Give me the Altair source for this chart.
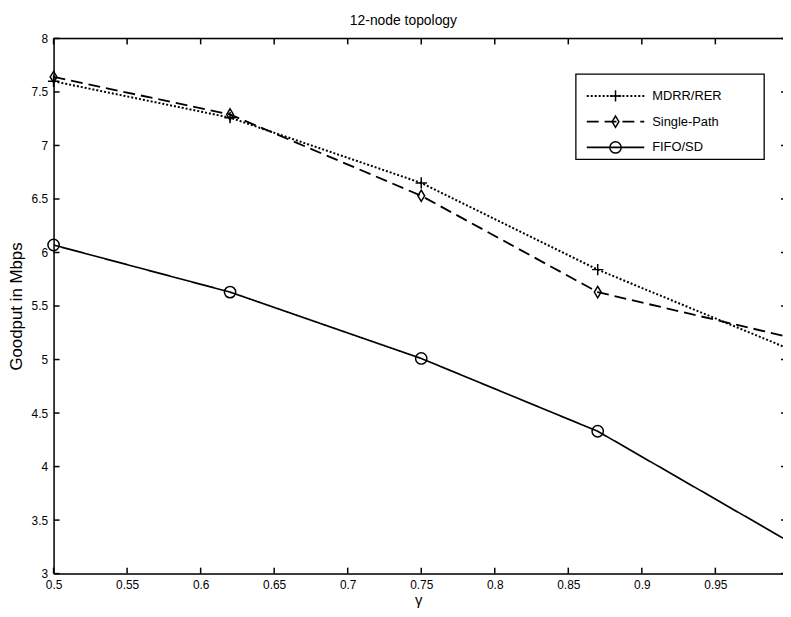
import altair as alt
import pandas as pd

# ---- data ----
gamma = [0.5, 0.62, 0.75, 0.87, 1.0]
series_names = ["MDRR/RER", "Single-Path", "FIFO/SD"]
mdrr = [7.60, 7.26, 6.65, 5.84, 5.10]
single = [7.64, 7.29, 6.53, 5.63, 5.21]
fifo = [6.07, 5.63, 5.01, 4.33, 3.30]
x_ticks = [0.5, 0.55, 0.6, 0.65, 0.7, 0.75, 0.8, 0.85, 0.9, 0.95]
y_ticks = [3, 3.5, 4, 4.5, 5, 5.5, 6, 6.5, 7, 7.5, 8]

W, H = 736, 540
FONT = "Liberation Sans"
dashes = [[2, 2], [12, 6], [1, 0]]
widths = [2.0, 1.7, 1.7]
shapes = ["M-1,0L1,0M0,-1L0,1", "M0,-1L0.6,0L0,1L-0.6,0Z", "circle"]

rows = []
for name, vals in zip(series_names, [mdrr, single, fifo]):
    for g, v in zip(gamma, vals):
        rows.append({"gamma": g, "goodput": v, "series": name})
df = pd.DataFrame(rows)

xs = alt.Scale(domain=[0.5, 0.996], nice=False, zero=False)
ys = alt.Scale(domain=[3, 8], nice=False, zero=False)

x_axis = alt.Axis(values=x_ticks, format="~g", ticks=False, grid=False, labelFontSize=12,
                  labelFont=FONT, labelColor="black", labelPadding=6, domainColor="black",
                  domainWidth=1.5, title="γ", titleFont=FONT, titleFontSize=15,
                  titleFontWeight="normal", titleColor="black", titleY=31,
                  titleBaseline="alphabetic", labelFlush=False)
y_axis = alt.Axis(values=y_ticks, format="~g", ticks=False, grid=False, labelFontSize=12,
                  labelFont=FONT, labelColor="black", labelPadding=6, domainColor="black",
                  domainWidth=1.5, title="Goodput in Mbps", titleFont=FONT, titleFontSize=17,
                  titleFontWeight="normal", titleColor="black", titleX=-32, titleY=H / 2,
                  titleAngle=-90, titleBaseline="alphabetic", titleAlign="center",
                  labelFlush=False)

dash_scale = alt.Scale(domain=series_names, range=dashes)
width_scale = alt.Scale(domain=series_names, range=widths)
shape_scale = alt.Scale(domain=series_names, range=shapes)

lines = alt.Chart(df).mark_line(color="black", clip=True).encode(
    x=alt.X("gamma:Q", scale=xs, axis=x_axis),
    y=alt.Y("goodput:Q", scale=ys, axis=y_axis),
    strokeDash=alt.StrokeDash("series:N", scale=dash_scale, legend=None),
    strokeWidth=alt.StrokeWidth("series:N", scale=width_scale, legend=None),
    detail="series:N",
)
points = alt.Chart(df).transform_filter(alt.datum.gamma < 0.99).mark_point(
    color="black", filled=False, size=130, strokeWidth=1.5, opacity=1).encode(
    x=alt.X("gamma:Q", scale=xs),
    y=alt.Y("goodput:Q", scale=ys),
    shape=alt.Shape("series:N", scale=shape_scale, legend=None),
)

# inward ticks (MATLAB-style box)
xt = pd.DataFrame({"t": x_ticks})
yt = pd.DataFrame({"t": y_ticks})
tick_bottom = alt.Chart(xt).mark_rule(color="black", strokeWidth=1.5).encode(
    x=alt.X("t:Q", scale=xs), y=alt.value(H), y2=alt.value(H - 6))
tick_top = alt.Chart(xt).mark_rule(color="black", strokeWidth=1.5).encode(
    x=alt.X("t:Q", scale=xs), y=alt.value(0), y2=alt.value(6))
tick_left = alt.Chart(yt).mark_rule(color="black", strokeWidth=1.5).encode(
    y=alt.Y("t:Q", scale=ys), x=alt.value(0), x2=alt.value(6))
tick_right = alt.Chart(yt).mark_rule(color="black", strokeWidth=1.5).encode(
    y=alt.Y("t:Q", scale=ys), x=alt.value(W - 2), x2=alt.value(W))
one = alt.Data(values=[{"k": 0}])
top_line = alt.Chart(one).mark_rule(color="black", strokeWidth=1.5).encode(
    x=alt.value(0), x2=alt.value(W), y=alt.value(0))

# legend (drawn manually)
box = alt.Chart(one).mark_rect(fill="white", stroke="black", strokeWidth=1.3).encode(
    x=alt.value(527), x2=alt.value(717), y=alt.value(36), y2=alt.value(122))
leg_layers = [box]
row_y = [58, 84, 110]
for name, d, w, s, ry in zip(series_names, dashes, widths, shapes, row_y):
    ldata = alt.Data(values=[{"label": name}])
    leg_layers.append(alt.Chart(ldata).mark_rule(color="black", strokeWidth=w, strokeDash=d).encode(
        x=alt.value(538), x2=alt.value(596), y=alt.value(ry)))
    leg_layers.append(alt.Chart(ldata).mark_point(color="black", filled=False, size=130,
                                                 strokeWidth=1.5, shape=s, opacity=1).encode(
        x=alt.value(567), y=alt.value(ry)))
    leg_layers.append(alt.Chart(ldata).mark_text(align="left", baseline="middle", font=FONT,
                                                fontSize=13, color="black").encode(
        x=alt.value(604), y=alt.value(ry), text="label:N"))

chart = alt.layer(lines, points, tick_bottom, tick_top, tick_left, tick_right, top_line,
                  *leg_layers).properties(
    width=W, height=H,
    title=alt.TitleParams("12-node topology", font=FONT, fontSize=14, fontWeight="normal",
                          color="black", dx=-15, offset=5),
    autosize=alt.AutoSizeParams(type="none"),
    padding={"left": 46, "top": 28, "right": 0, "bottom": 33},
).configure_view(stroke=None).configure(background="white")

chart.save("out.html", embed_options={"renderer": "svg", "actions": False})
